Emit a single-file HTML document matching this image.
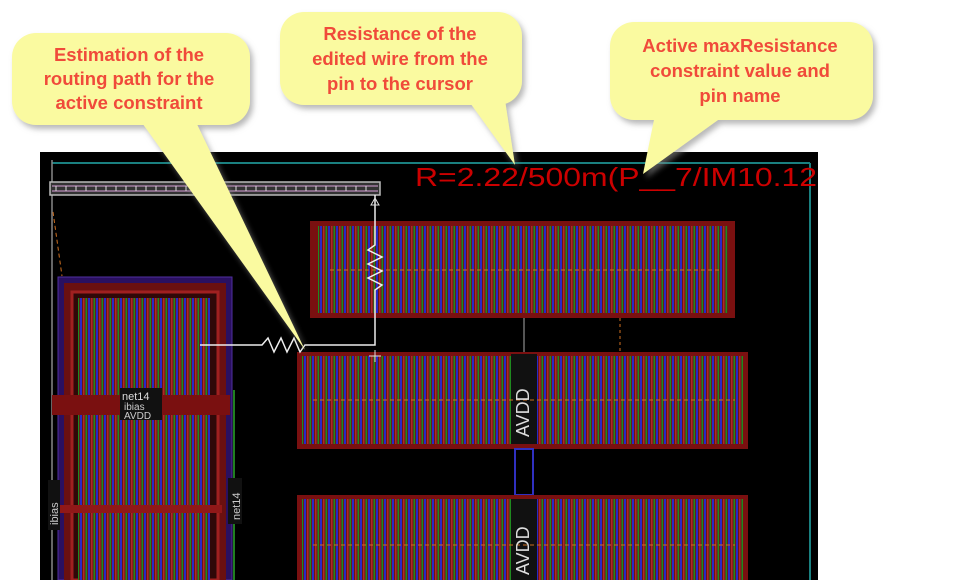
<!DOCTYPE html>
<html><head><meta charset="utf-8"><style>
body{margin:0;background:#fff;width:960px;height:580px;overflow:hidden}
</style></head><body>
<svg width="960" height="580" viewBox="0 0 960 580" xmlns="http://www.w3.org/2000/svg">
<defs>
<pattern id="st" width="8" height="10" patternUnits="userSpaceOnUse">
<rect width="8" height="10" fill="#6a1414"/>
<rect x="0" width="2" height="10" fill="#2828c8"/>
<rect x="3" width="1.5" height="10" fill="#b02828"/>
<rect x="5.5" width="1.6" height="10" fill="#1f8a1f"/>
</pattern>
<filter id="sh" x="-10%" y="-10%" width="130%" height="130%"><feDropShadow dx="3" dy="4" stdDeviation="3" flood-color="#888" flood-opacity="0.6"/></filter>
</defs>
<rect x="40" y="152" width="778" height="428" fill="#000"/>
<line x1="52" y1="163" x2="810" y2="163" stroke="#1a8080" stroke-width="2"/>
<line x1="810" y1="163" x2="810" y2="580" stroke="#1a8080" stroke-width="2"/>
<line x1="52" y1="160" x2="52" y2="580" stroke="#888" stroke-width="1.5"/>
<!-- top right block -->
<rect x="310" y="221" width="425" height="97" fill="#7a1010"/>
<rect x="318" y="226" width="410" height="87" fill="url(#st)"/>
<line x1="330" y1="270" x2="720" y2="270" stroke="#d07020" stroke-dasharray="4,3"/>
<!-- middle row -->
<rect x="297" y="352" width="451" height="97" fill="#7a1010"/>
<rect x="302" y="356" width="441" height="88" fill="url(#st)"/>
<rect x="511" y="354" width="26" height="90" fill="#111"/>
<line x1="313" y1="400" x2="735" y2="400" stroke="#d07020" stroke-dasharray="4,3"/>
<text transform="translate(529,437) rotate(-90)" fill="#ddd" font-family="Liberation Sans,sans-serif" font-size="18">AVDD</text>
<rect x="515" y="449" width="18" height="46" fill="none" stroke="#3030c0" stroke-width="2"/>
<line x1="524" y1="318" x2="524" y2="352" stroke="#aaa"/>
<!-- bottom row -->
<rect x="297" y="495" width="451" height="85" fill="#7a1010"/>
<rect x="302" y="499" width="441" height="81" fill="url(#st)"/>
<rect x="511" y="499" width="26" height="81" fill="#111"/>
<line x1="313" y1="545" x2="735" y2="545" stroke="#d07020" stroke-dasharray="4,3"/>
<text transform="translate(529,575) rotate(-90)" fill="#ddd" font-family="Liberation Sans,sans-serif" font-size="18">AVDD</text>
<!-- left block -->
<rect x="58" y="277" width="174" height="303" fill="#2a1060" stroke="#5030a0"/>
<rect x="64" y="283" width="162" height="297" fill="#6a1010"/>
<rect x="72" y="292" width="146" height="288" fill="#300808" stroke="#a02020" stroke-width="3"/>
<rect x="78" y="298" width="132" height="282" fill="url(#st)"/>
<rect x="52" y="395" width="178" height="20" fill="#7a1010"/>
<rect x="52" y="505" width="170" height="8" fill="#901818"/>
<rect x="120" y="388" width="42" height="32" fill="#111"/>
<text x="122" y="400" fill="#ddd" font-family="Liberation Sans,sans-serif" font-size="11">net14</text>
<text x="124" y="410" fill="#ccc" font-family="Liberation Sans,sans-serif" font-size="10">ibias</text>
<text x="124" y="419" fill="#ccc" font-family="Liberation Sans,sans-serif" font-size="10">AVDD</text>
<rect x="48" y="480" width="12" height="50" fill="#111"/>
<text transform="translate(58,525) rotate(-90)" fill="#ccc" font-family="Liberation Sans,sans-serif" font-size="11">ibias</text>
<line x1="234" y1="390" x2="234" y2="580" stroke="#208020" stroke-width="2"/>
<rect x="228" y="478" width="14" height="46" fill="#111"/>
<text transform="translate(240,520) rotate(-90)" fill="#ccc" font-family="Liberation Sans,sans-serif" font-size="11">net14</text>
<path d="M53 212 L62 276" stroke="#d07020" stroke-dasharray="4,3" fill="none"/>
<line x1="620" y1="318" x2="620" y2="352" stroke="#d07020" stroke-dasharray="3,3"/>
<!-- wire bar -->
<rect x="50" y="182" width="330" height="13" fill="#333" stroke="#bbb" stroke-width="1.5"/>
<line x1="52" y1="186" x2="378" y2="186" stroke="#d8a0d8"/>
<line x1="52" y1="191" x2="378" y2="191" stroke="#d8a0d8"/>
<path d="M56 186 v5 M66 186 v5 M76 186 v5 M86 186 v5 M96 186 v5 M106 186 v5 M116 186 v5 M126 186 v5 M136 186 v5 M146 186 v5 M156 186 v5 M166 186 v5 M176 186 v5 M186 186 v5 M196 186 v5 M206 186 v5 M216 186 v5 M226 186 v5 M236 186 v5 M246 186 v5 M256 186 v5 M266 186 v5 M276 186 v5 M286 186 v5 M296 186 v5 M306 186 v5 M316 186 v5 M326 186 v5 M336 186 v5 M346 186 v5 M356 186 v5 M366 186 v5" stroke="#ddd"/>
<!-- routing estimate -->
<path d="M375 195 V245 L368 250 L382 257 L368 264 L382 271 L368 278 L382 285 L375 290 V345 H305 L300 352 L294 338 L287 352 L281 338 L274 352 L268 338 L262 345 H200" stroke="#eee" stroke-width="1.5" fill="none"/>
<path d="M371 205 L375 198 L379 205 Z M369 356 H381 M375 350 V362" stroke="#ddd" fill="none"/>
<text x="415" y="186" fill="#c00" font-family="Liberation Sans,sans-serif" font-size="26" textLength="402" lengthAdjust="spacingAndGlyphs">R=2.22/500m(P__7/IM10.12</text>
<!-- callouts -->
<g filter="url(#sh)" fill="#fafaa0">
<rect x="12" y="33" width="238" height="92" rx="24"/>
<path d="M140 120 L305 350 L195 120 Z"/>
<rect x="280" y="12" width="242" height="93" rx="24"/>
<path d="M468 100 L515 165 L505 100 Z"/>
<rect x="610" y="22" width="263" height="98" rx="24"/>
<path d="M655 115 L643 174 L725 115 Z"/>
</g>
<g fill="#f04a3a" font-family="Liberation Sans,sans-serif" font-size="18.5" font-weight="bold" text-anchor="middle">
<text x="129" y="61">Estimation of the</text>
<text x="129" y="85">routing path for the</text>
<text x="129" y="109">active constraint</text>
<text x="400" y="40">Resistance of the</text>
<text x="400" y="65">edited wire from the</text>
<text x="400" y="90">pin to the cursor</text>
<text x="740" y="52">Active maxResistance</text>
<text x="740" y="77">constraint value and</text>
<text x="740" y="102">pin name</text>
</g>
</svg>
</body></html>
